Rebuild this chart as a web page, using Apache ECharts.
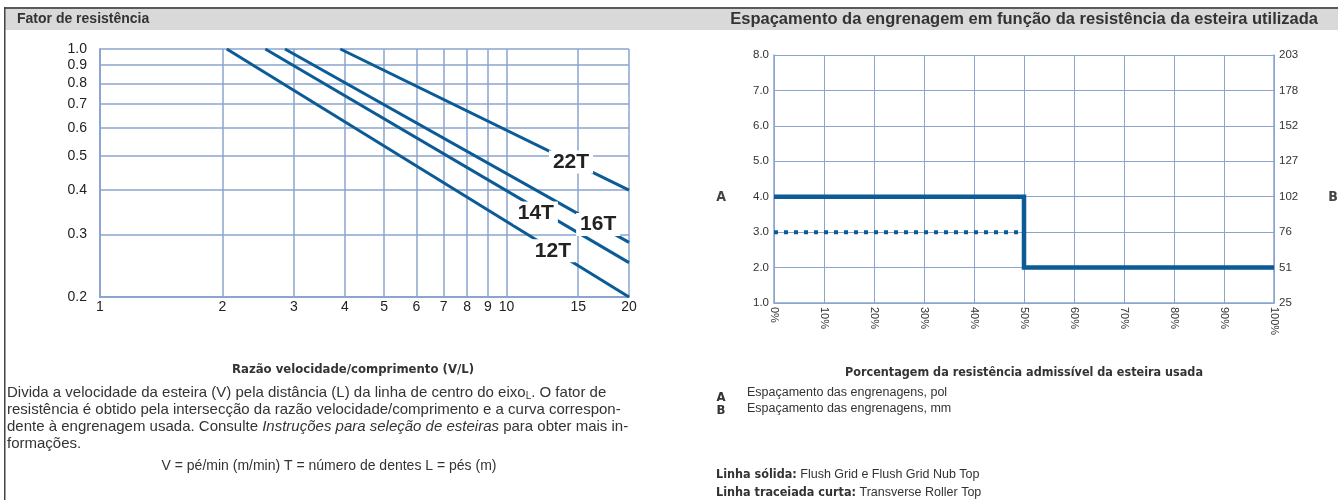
<!DOCTYPE html>
<html>
<head>
<meta charset="utf-8">
<script src="https://cdn.jsdelivr.net/npm/echarts@6/dist/echarts.min.js"></script>
<style>
  html, body { margin: 0; padding: 0; background: #fff; }
  #main { width: 1338px; height: 500px; }
</style>
</head>
<body>
<div id="main"></div>
<script>
// Fator de resistência - razão V/L (escala log)
const vlTicks = [1, 2, 3, 4, 5, 6, 7, 8, 9, 10, 15, 20];
const factorTicks = [0.2, 0.3, 0.4, 0.5, 0.6, 0.7, 0.8, 0.9, 1.0];
const curveNames = ['12T', '14T', '16T', '22T'];
const curveX = [[2.05, 20], [2.55, 20], [2.85, 20], [3.9, 20]];
const curveY = [[1.0, 0.2], [1.0, 0.25], [1.0, 0.285], [1.0, 0.4]];
const curveLabelX = [13.0, 11.8, 16.8, 14.4];
const curveLabelY = [0.27, 0.345, 0.32, 0.48];

// Espaçamento da engrenagem
const mmLabels = ['25', '51', '76', '102', '127', '152', '178', '203'];
const solidX = [0, 50, 50, 100];
const solidY = [4, 4, 2, 2];
const dashX = [0, 50];
const dashY = [3, 3];

const gridColor = '#8ba5cf';
const lineBlue = '#0b5b97';
const txt = '#333';
const FONT = '"Liberation Sans", Arial, sans-serif';
const NARROW = '"Liberation Sans Narrow", "DejaVu Sans Condensed", sans-serif';

const chart = echarts.init(document.getElementById('main'));

const curveSeries = curveNames.map((name, i) => ({
  name,
  type: 'line',
  xAxisIndex: 0,
  yAxisIndex: 0,
  data: curveX[i].map((x, j) => [x, curveY[i][j]]),
  symbol: 'none',
  silent: true,
  lineStyle: { color: lineBlue, width: 3 },
  markPoint: {
    symbol: 'rect',
    symbolSize: 1,
    itemStyle: { color: 'rgba(0,0,0,0)' },
    label: {
      show: true,
      position: 'inside',
      formatter: name,
      color: '#222',
      fontSize: 21,
      fontWeight: 'bold',
      fontFamily: FONT,
      backgroundColor: '#fff',
      padding: [1, 4]
    },
    data: [{ coord: [curveLabelX[i], curveLabelY[i]] }]
  }
}));

chart.setOption({
  animation: false,
  textStyle: { fontFamily: FONT },
  grid: [
    { left: 100, top: 49, width: 529, height: 248 },
    { left: 774, top: 55, width: 500, height: 248 }
  ],
  xAxis: [
    {
      gridIndex: 0, type: 'log', logBase: 10, min: 1, max: 20,
      axisLine: { show: true, lineStyle: { color: gridColor, width: 2 } },
      axisTick: { show: false, customValues: vlTicks },
      axisLabel: { customValues: vlTicks, fontSize: 14, color: '#222', margin: 3, formatter: v => String(v) },
      splitLine: { show: true, lineStyle: { color: gridColor, width: 1.5 } }
    },
    {
      gridIndex: 1, type: 'value', min: 0, max: 100, interval: 10,
      axisLine: { show: true, lineStyle: { color: gridColor, width: 1.5 } },
      axisTick: { show: false },
      axisLabel: { fontSize: 11, color: '#333', rotate: -90, margin: 4, formatter: '{value}%' },
      splitLine: { show: true, lineStyle: { color: gridColor, width: 1 } }
    }
  ],
  yAxis: [
    {
      gridIndex: 0, type: 'log', logBase: 10, min: 0.2, max: 1.0,
      axisLine: { show: true, lineStyle: { color: gridColor, width: 2 } },
      axisTick: { show: false, customValues: factorTicks },
      axisLabel: { customValues: factorTicks, fontSize: 14, color: '#222', margin: 13, formatter: v => v.toFixed(1) },
      splitLine: { show: true, lineStyle: { color: gridColor, width: 1.5 } }
    },
    {
      gridIndex: 1, type: 'value', min: 1, max: 8, interval: 1,
      axisLine: { show: true, lineStyle: { color: gridColor, width: 1.5 } },
      axisTick: { show: false },
      axisLabel: { fontSize: 11.5, color: '#333', margin: 5, formatter: v => v.toFixed(1) },
      splitLine: { show: true, lineStyle: { color: gridColor, width: 1 } }
    },
    {
      gridIndex: 1, type: 'value', position: 'right', min: 1, max: 8, interval: 1,
      axisLine: { show: true, lineStyle: { color: gridColor, width: 1.5 } },
      axisTick: { show: false },
      axisLabel: { fontSize: 11.5, color: '#333', margin: 5, formatter: v => mmLabels[v - 1] },
      splitLine: { show: false }
    }
  ],
  series: [
    ...curveSeries,
    {
      name: 'Linha sólida',
      type: 'line', xAxisIndex: 1, yAxisIndex: 1,
      data: solidX.map((x, i) => [x, solidY[i]]),
      symbol: 'none', silent: true,
      lineStyle: { color: lineBlue, width: 4.5, join: 'miter', cap: 'butt' }
    },
    {
      name: 'Linha tracejada curta',
      type: 'line', xAxisIndex: 1, yAxisIndex: 1,
      data: dashX.map((x, i) => [x, dashY[i]]),
      symbol: 'none', silent: true,
      lineStyle: { color: lineBlue, width: 4, type: [4, 6], cap: 'butt' }
    }
  ],
  graphic: [
    // faixa de título
    { type: 'rect', silent: true, shape: { x: 5, y: 8, width: 1333, height: 22 }, style: { fill: '#d9d9d9' } },
    { type: 'rect', silent: true, shape: { x: 5, y: 7, width: 1333, height: 2 }, style: { fill: '#5a5a5a' } },
    { type: 'rect', silent: true, shape: { x: 4, y: 7, width: 1.5, height: 493 }, style: { fill: '#444' } },
    { type: 'text', silent: true, x: 17, y: 19, style: { text: 'Fator de resistência', fill: txt, fontSize: 14, fontWeight: 'bold', fontFamily: FONT, textVerticalAlign: 'middle' } },
    { type: 'text', silent: true, x: 1318, y: 19, style: { text: 'Espaçamento da engrenagem em função da resistência da esteira utilizada', fill: txt, fontSize: 16.5, fontWeight: 'bold', fontFamily: FONT, textAlign: 'right', textVerticalAlign: 'middle' } },

    // eixos A / B
    { type: 'text', silent: true, x: 721, y: 197, style: { text: 'A', fill: '#444', fontSize: 14, fontWeight: 'bold', fontFamily: NARROW, textAlign: 'center', textVerticalAlign: 'middle' } },
    { type: 'text', silent: true, x: 1333, y: 197, style: { text: 'B', fill: '#444', fontSize: 14, fontWeight: 'bold', fontFamily: NARROW, textAlign: 'center', textVerticalAlign: 'middle' } },

    // textos da esquerda
    { type: 'text', silent: true, x: 353, y: 370, style: { text: 'Razão velocidade/comprimento (V/L)', fill: txt, fontSize: 13, fontWeight: 'bold', fontFamily: NARROW, textAlign: 'center', textVerticalAlign: 'middle' } },
    {
      type: 'text', silent: true, x: 7, y: 384,
      style: {
        text: 'Divida a velocidade da esteira (V) pela distância (L) da linha de centro do eixo{sub|L}. O fator de\n' +
              'resistência é obtido pela intersecção da razão velocidade/comprimento e a curva correspon-\n' +
              'dente à engrenagem usada. Consulte {it|Instruções para seleção de esteiras} para obter mais in-\n' +
              'formações.',
        fill: txt, fontSize: 15, fontFamily: FONT, lineHeight: 17,
        rich: {
          sub: { fontSize: 10, fill: txt, fontFamily: FONT, verticalAlign: 'bottom', lineHeight: 12 },
          it: { fontSize: 15, fill: txt, fontFamily: FONT, fontStyle: 'italic', lineHeight: 17 }
        }
      }
    },
    { type: 'text', silent: true, x: 329, y: 466, style: { text: 'V = pé/min (m/min) T = número de dentes L = pés (m)', fill: txt, fontSize: 14, fontFamily: FONT, textAlign: 'center', textVerticalAlign: 'middle' } },

    // textos da direita
    { type: 'text', silent: true, x: 1024, y: 373, style: { text: 'Porcentagem da resistência admissível da esteira usada', fill: txt, fontSize: 12.5, fontWeight: 'bold', fontFamily: NARROW, textAlign: 'center', textVerticalAlign: 'middle' } },
    { type: 'text', silent: true, x: 721, y: 398, style: { text: 'A', fill: txt, fontSize: 13, fontWeight: 'bold', fontFamily: NARROW, textAlign: 'center', textVerticalAlign: 'middle' } },
    { type: 'text', silent: true, x: 721, y: 411, style: { text: 'B', fill: txt, fontSize: 13, fontWeight: 'bold', fontFamily: NARROW, textAlign: 'center', textVerticalAlign: 'middle' } },
    { type: 'text', silent: true, x: 747, y: 393, style: { text: 'Espaçamento das engrenagens, pol', fill: txt, fontSize: 12.5, fontFamily: FONT, textVerticalAlign: 'middle' } },
    { type: 'text', silent: true, x: 747, y: 409, style: { text: 'Espaçamento das engrenagens, mm', fill: txt, fontSize: 12.5, fontFamily: FONT, textVerticalAlign: 'middle' } },
    {
      type: 'text', silent: true, x: 716, y: 475,
      style: {
        text: '{b|Linha sólida:} Flush Grid e Flush Grid Nub Top',
        fill: txt, fontSize: 12.5, fontFamily: FONT, textVerticalAlign: 'middle',
        rich: { b: { fontSize: 12.5, fontWeight: 'bold', fontFamily: NARROW, fill: txt } }
      }
    },
    {
      type: 'text', silent: true, x: 716, y: 493,
      style: {
        text: '{b|Linha traceiada curta:} Transverse Roller Top',
        fill: txt, fontSize: 12.5, fontFamily: FONT, textVerticalAlign: 'middle',
        rich: { b: { fontSize: 12.5, fontWeight: 'bold', fontFamily: NARROW, fill: txt } }
      }
    }
  ]
});
</script>
</body>
</html>
